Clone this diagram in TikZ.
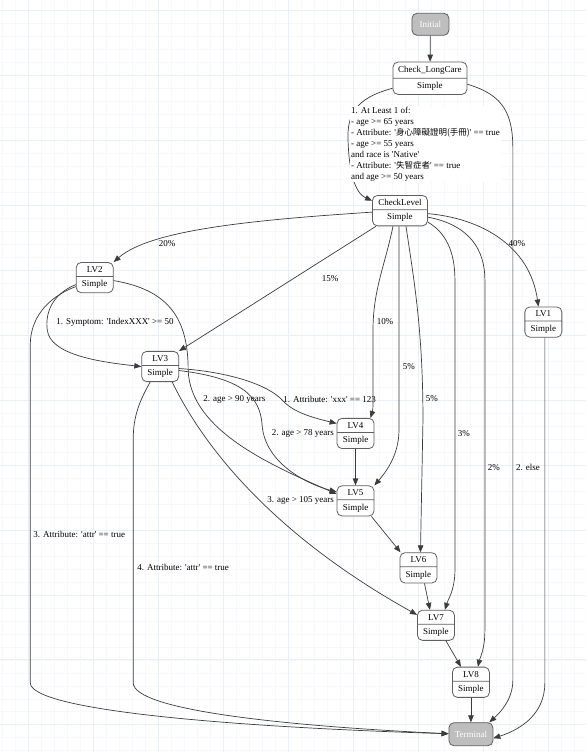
\documentclass[tikz,border=0pt]{standalone}
\usepackage{fontspec}
\setmainfont{Liberation Serif}
\newfontfamily\cjkfont{Noto Sans CJK TC}
\usetikzlibrary{shapes.multipart,arrows.meta,calc}
\newcommand\sq{\textquotesingle}
\definecolor{gridminor}{RGB}{246,248,251}
\definecolor{gridmajor}{RGB}{234,239,245}
\definecolor{edgecol}{RGB}{60,60,60}
\definecolor{boxline}{RGB}{95,95,95}
\definecolor{endfill}{RGB}{190,190,190}
\begin{document}
\begin{tikzpicture}[x=1pt,y=-1pt,
  lbl/.style={font=\fontsize{9}{11}\selectfont, inner sep=1pt},
  stbox/.style={rectangle split, rectangle split parts=2, draw=boxline, line width=0.8pt,
    rounded corners=5pt, fill=white, minimum width=37pt, inner xsep=3pt, inner ysep=3.6pt,
    font=\fontsize{9}{11}\selectfont, align=center},
  endbox/.style={draw=boxline, line width=0.8pt, rounded corners=5pt, fill=endfill,
    text=white, font=\fontsize{9}{11}\selectfont, inner sep=2pt},
  conn/.style={draw=edgecol, line width=0.7pt, -{Triangle[length=7pt,width=5.5pt]}}]
% background and grid
\fill[white] (0,0) rectangle (586,752);
\foreach \i in {0,...,44} \draw[gridminor, line width=0.5pt] (2+13*\i,0) -- (2+13*\i,752);
\foreach \i in {0,...,57} \draw[gridminor, line width=0.5pt] (0,10+13*\i) -- (586,10+13*\i);
\foreach \i in {0,...,8} \draw[gridmajor, line width=0.6pt] (28+65*\i,0) -- (28+65*\i,752);
\foreach \i in {0,...,11} \draw[gridmajor, line width=0.6pt] (0,10+65*\i) -- (586,10+65*\i);
\useasboundingbox (0,0) rectangle (586,752);

% nodes
\node[endbox, minimum width=37pt, minimum height=22pt] (init) at (430.5,24) {Initial};
\node[stbox, minimum width=74pt] (clc) at (430,78) {Check\_LongCare \nodepart{two} Simple};
\node[stbox, minimum width=55pt] (cl) at (400,210.5) {CheckLevel \nodepart{two} Simple};
\node[stbox] (lv1) at (543.5,322) {LV1 \nodepart{two} Simple};
\node[stbox] (lv2) at (94.5,277.5) {LV2 \nodepart{two} Simple};
\node[stbox] (lv3) at (160,366.5) {LV3 \nodepart{two} Simple};
\node[stbox] (lv4) at (355.5,433.5) {LV4 \nodepart{two} Simple};
\node[stbox] (lv5) at (355.5,501) {LV5 \nodepart{two} Simple};
\node[stbox] (lv6) at (418.5,568) {LV6 \nodepart{two} Simple};
\node[stbox] (lv7) at (436,625.5) {LV7 \nodepart{two} Simple};
\node[stbox] (lv8) at (471,682.5) {LV8 \nodepart{two} Simple};
\node[endbox, minimum width=44pt, minimum height=23pt] (term) at (471,734.5) {Terminal};

% edges
\draw[conn] (init) -- (clc);
\draw[conn] ([yshift=-10pt]clc.west) .. controls (355,98) and (347,115) .. (348,140)
  .. controls (349,172) and (355,193) .. ([yshift=10pt]cl.west);
\node[lbl, anchor=west, align=left, fill=white] (l1) at (350,144)
  {1. At Least 1 of:\\- age >= 65 years\\- Attribute: \sq{\cjkfont\fontsize{8.5}{11}\selectfont 身心障礙證明(手冊)}\sq{} == true\\- age >= 55 years\\and race is \sq Native\sq\\- Attribute: \sq{\cjkfont\fontsize{8.5}{11}\selectfont 失智症者}\sq{} == true\\and age >= 50 years};
\draw[conn] ([yshift=-6pt]clc.east) .. controls (505,95) and (513,115) .. (513,150) -- (513,680)
  .. controls (513,700) and (500,713) .. ([xshift=-4pt]term.north east);
\node[lbl, anchor=west] (lelse) at (515,468) {2. else};

\draw[conn] ([yshift=-1.5pt]cl.west) .. controls (250,220) and (150,230) .. (lv2.north east);
\node[lbl] (p20) at (167,243) {20\%};
\draw[conn] ([xshift=-24pt]cl.south) -- (lv3.north east);
\node[lbl] (p15) at (330,278) {15\%};
\draw[conn] ([xshift=-7pt]cl.south) .. controls (385,265) and (373,290) .. (373,330) -- (373,405)
  .. controls (373,410) and (372,413) .. ([xshift=15pt]lv4.north);
\node[lbl] (p10) at (385,322) {10\%};
\draw[conn] ([xshift=-1pt]cl.south) -- (399,430) .. controls (399,455) and (386,472) .. (lv5.north east);
\node[lbl] (p5a) at (409,367) {5\%};
\draw[conn] ([xshift=6pt]cl.south) .. controls (414,280) and (423,330) .. (423,420) -- ([xshift=2pt]lv6.north);
\node[lbl] (p5b) at (432,399) {5\%};
\draw[conn] ([yshift=-11.5pt]cl.east) .. controls (445,232) and (455,250) .. (455,280) -- (455,570)
  .. controls (455,590) and (448,600) .. ([xshift=9pt]lv7.north);
\node[lbl] (p3) at (464,434) {3\%};
\draw[conn] ([yshift=-6.5pt]cl.east) .. controls (470,225) and (485,250) .. (485,280) -- (485,630)
  .. controls (485,650) and (480,658) .. ([xshift=7pt]lv8.north);
\node[lbl] (p2) at (494,468) {2\%};
\draw[conn] ([yshift=-3pt]cl.east) .. controls (480,218) and (530,245) .. ([xshift=-5pt]lv1.north);
\node[lbl] (p40) at (517,243) {40\%};

\draw[conn] ([yshift=-7pt]lv2.west) .. controls (50,295) and (45,315) .. (47,330)
  .. controls (50,355) and (100,362) .. (lv3.west);
\node[lbl, anchor=west] (ls1) at (55,322) {1. Symptom: \sq IndexXXX\sq{} >= 50};
\draw[conn] ([yshift=-3pt]lv2.east) .. controls (170,290) and (188,320) .. (188,370)
  .. controls (190,430) and (270,465) .. ([yshift=7pt]lv5.west);
\node[lbl, anchor=east] (ls2) at (335,434) {2. age > 78 years};
\draw[conn] ([yshift=-9pt]lv2.west) .. controls (45,298) and (30,320) .. (30,345) -- (30,683)
  .. controls (30,712) and (250,728) .. ([yshift=0.5pt]term.west);
\node[lbl, anchor=west] (ls3) at (32,535) {3. Attribute: \sq attr\sq{} == true};

\draw[conn] ([yshift=-2pt]lv3.east) .. controls (230,372) and (268,385) .. (282,400)
  .. controls (293,412) and (310,417) .. ([yshift=10pt]lv4.west);
\node[lbl, anchor=west] (lt1) at (282,399) {1. Attribute: \sq xxx\sq{} == 123};
\draw[conn] ([yshift=-4pt]lv3.east) .. controls (240,378) and (260,395) .. (262,425)
  .. controls (265,465) and (310,485) .. ([yshift=9pt]lv5.west);
\node[lbl, anchor=west] (lt2) at (202,399) {2. age > 90 years};
\draw[conn] ([xshift=12pt]lv3.south) .. controls (215,470) and (300,550) .. ([yshift=10.5pt]lv7.west);
\node[lbl, anchor=east] (lt3) at (335,501) {3. age > 105 years};
\draw[conn] ([xshift=-10pt]lv3.south) .. controls (140,400) and (133,415) .. (133,440) -- (133,683)
  .. controls (133,710) and (280,726) .. ([yshift=0.5pt]term.west);
\node[lbl, anchor=west] (lt4) at (136,568) {4. Attribute: \sq attr\sq{} == true};

\draw[conn] ([xshift=1.5pt]lv1.south) -- (545,683) .. controls (545,715) and (520,730) .. ([yshift=-4pt]term.east);
\draw[conn] (lv4) -- (lv5);
\draw[conn] ([xshift=-3pt]lv5.south east) -- ([xshift=1pt]lv6.north west);
\draw[conn] ([xshift=6pt]lv6.south) -- ([xshift=-6pt]lv7.north);
\draw[conn] ([xshift=10pt]lv7.south) -- ([xshift=-10pt]lv8.north);
\draw[conn] (lv8) -- (term);
\end{tikzpicture}
\end{document}
